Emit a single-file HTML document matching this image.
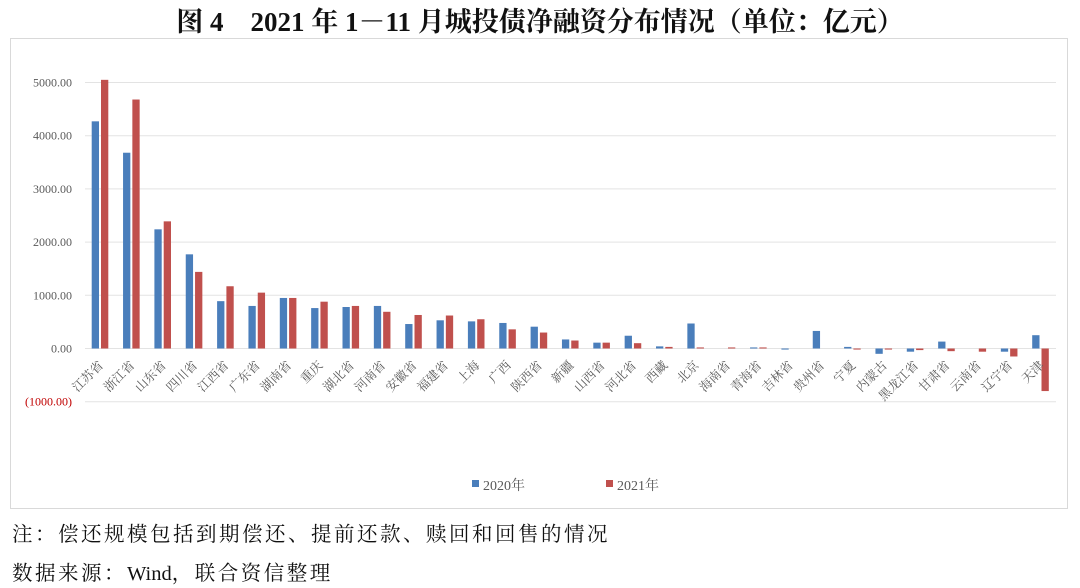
<!DOCTYPE html>
<html><head><meta charset="utf-8"><style>
body{margin:0;width:1080px;height:588px;background:#fff;overflow:hidden;font-family:"Liberation Serif","Noto Serif CJK SC",serif;}
.t{position:absolute;left:0;width:1080px;text-align:center;top:0px;font-size:27px;font-weight:bold;color:#111;}
.n{position:absolute;left:12px;font-size:20.5px;color:#111;letter-spacing:2.5px;font-family:"Liberation Serif","Noto Serif CJK SC",serif;}
</style></head><body>
<div class="t">图 4　2021 年 1－11 月城投债净融资分布情况（单位：亿元）</div>
<svg id="s" width="1080" height="588" style="position:absolute;left:0;top:0"></svg>
<div class="n" style="top:517px">注：偿还规模包括到期偿还、提前还款、赎回和回售的情况</div>
<div class="n" style="top:556px">数据来源：<span style="letter-spacing:0">Wind</span>，联合资信整理</div>
<script>
var d=[["江苏省",4270,5050],["浙江省",3680,4680],["山东省",2240,2390],["四川省",1770,1440],["江西省",890,1170],["广东省",800,1050],["湖南省",950,950],["重庆",760,880],["湖北省",780,800],["河南省",800,690],["安徽省",460,630],["福建省",530,620],["上海",510,550],["广西",480,360],["陕西省",410,300],["新疆",170,150],["山西省",110,110],["河北省",240,100],["西藏",40,30],["北京",470,20],["海南省",0,20],["青海省",20,20],["吉林省",-20,0],["贵州省",330,0],["宁夏",30,-20],["内蒙古",-100,-20],["黑龙江省",-60,-30],["甘肃省",130,-50],["云南省",0,-60],["辽宁省",-60,-150],["天津",250,-800]];
var k=0.0532,z=348.5,h='<rect x="10.5" y="38.5" width="1057" height="470" fill="none" stroke="#d9d9d9"/>';
var ticks=[[5000,"5000.00"],[4000,"4000.00"],[3000,"3000.00"],[2000,"2000.00"],[1000,"1000.00"],[0,"0.00"],[-1000,"(1000.00)"]];
ticks.forEach(function(t){var y=z-t[0]*k;h+='<line x1="85" x2="1056" y1="'+y+'" y2="'+y+'" stroke="#e3e3e3"/>';
h+='<text x="72" y="'+(y+4)+'" text-anchor="end" font-size="12" fill="'+(t[0]<0?'#c00000':'#595959')+'" font-family="Liberation Serif">'+t[1]+'</text>';});
d.forEach(function(r,i){var c=100+31.35*i;
[[r[1],c-8.3,'#4a7ebb'],[r[2],c+1,'#c0504d']].forEach(function(b){if(!b[0])return;var y=z-b[0]*k;h+='<rect x="'+b[1]+'" y="'+Math.min(y,z)+'" width="7.3" height="'+Math.max(Math.abs(b[0]*k),1)+'" fill="'+b[2]+'"/>';});
h+='<text transform="translate('+(c+4)+',366) rotate(-45)" text-anchor="end" font-size="12.5" fill="#595959" font-family="Liberation Serif,Noto Serif CJK SC,serif">'+r[0]+'</text>';});
h+='<rect x="472" y="480" width="7" height="7" fill="#4a7ebb"/><text x="483" y="490" font-size="14" fill="#595959">2020年</text>';
h+='<rect x="606" y="480" width="7" height="7" fill="#c0504d"/><text x="617" y="490" font-size="14" fill="#595959">2021年</text>';
document.getElementById('s').innerHTML=h;
</script>
</body></html>
